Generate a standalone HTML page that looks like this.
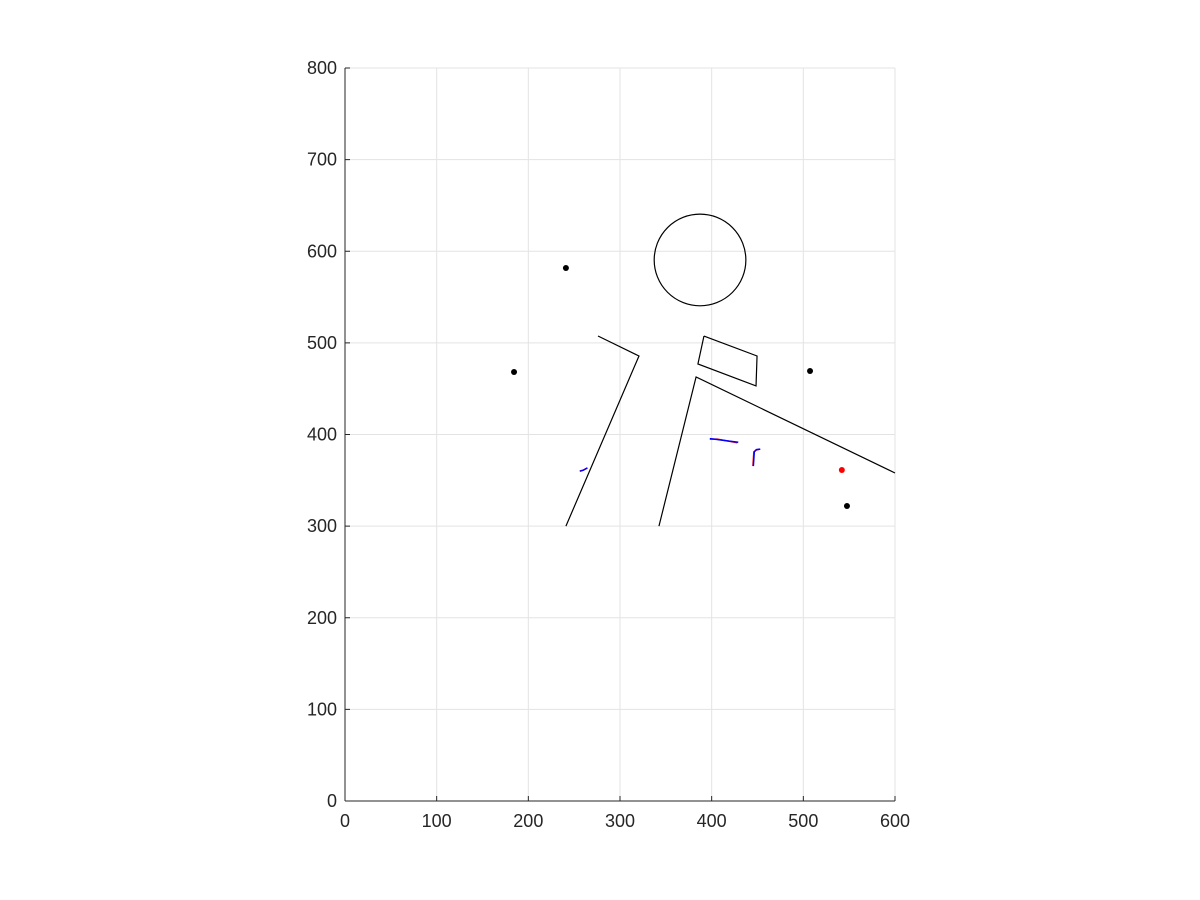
<!DOCTYPE html>
<html><head><meta charset="utf-8"><style>
body{margin:0;background:#fff}
svg{display:block;font-family:"Liberation Sans",sans-serif}
</style></head><body>
<svg id="chart" width="1200" height="900"></svg>
<script>
const xTicks=[0,100,200,300,400,500,600];
const yTicks=[0,100,200,300,400,500,600,700,800];
const wallA=[[276,507.5],[320.7,485.7],[241,300]];
const wallB=[[342.5,300],[383,462.8],[600,358]];
const quad=[[391.6,507.5],[449.5,485.7],[448.4,453],[385,477],[391.6,507.5]];
const circle=[387.3,590.5,50];
const blackDots=[[241,581.7],[184.4,468.2],[507.3,469.3],[547.6,322]];
const redDots=[[542,361.3]];
const traceRed=[[[398,395],[406,395],[417,393],[428,391]],[[445,365.6],[446,381],[448.4,383],[452.8,384]],[[256,360],[259.6,361],[264,363.4]]];
const traceBlue=[[[398,395.5],[406,394.5],[417,393],[429,391.5]],[[445.5,365.6],[446.5,381],[448.8,383.5],[453,384]],[[256.5,360],[260,361],[264.5,363.6]]];
const X0=345,X1=895,Y0=801,Y1=68;
const sx=v=>X0+(v-0)/600*(X1-X0);
const sy=v=>Y0-(v-0)/800*(Y0-Y1);
const svg=document.getElementById('chart');
const NS='http://www.w3.org/2000/svg';
function mk(t,a){const e=document.createElementNS(NS,t);for(const k in a)e.setAttribute(k,a[k]);svg.appendChild(e);return e;}
xTicks.forEach(t=>{
 const g=mk('line',{x1:sx(t),x2:sx(t),y1:Y1,y2:Y0,stroke:'#e3e3e3','stroke-width':1});
 
 
 const tk=mk('text',{x:sx(t),y:Y0+26,'text-anchor':'middle','font-size':18,fill:'#262626'});
 tk.textContent=t;
 
 
});
yTicks.forEach(t=>{
 const g=mk('line',{x1:X0,x2:X1,y1:sy(t),y2:sy(t),stroke:'#e3e3e3','stroke-width':1});
 
 
 const tk=mk('text',{x:X0-8,y:sy(t)+6,'text-anchor':'end','font-size':18,fill:'#262626'});
 tk.textContent=t;
 
 
});
const xa=mk('line',{x1:X0,x2:X1,y1:Y0,y2:Y0,stroke:'#262626','stroke-width':1});


const ya=mk('line',{x1:X0,x2:X0,y1:Y1,y2:Y0,stroke:'#262626','stroke-width':1});


xTicks.forEach(t=>{mk('line',{x1:sx(t),x2:sx(t),y1:Y0,y2:Y0-5,stroke:'#262626'});});
yTicks.forEach(t=>{mk('line',{x1:X0,x2:X0+5,y1:sy(t),y2:sy(t),stroke:'#262626'});});
function poly(pts,color,w,name){
 const p=mk('polyline',{points:pts.map(q=>sx(q[0])+','+sy(q[1])).join(' '),fill:'none',stroke:color,'stroke-width':w});
 
 
}
poly(wallA,'#000',1.2,'wall-left');
poly(wallB,'#000',1.2,'wall-right');
poly(quad,'#000',1.2,'obstacle-quad');
const c=mk('circle',{cx:sx(circle[0]),cy:sy(circle[1]),r:circle[2]/600*(X1-X0),fill:'none',stroke:'#000','stroke-width':1.2});


traceRed.forEach(t=>poly(t,'#f00',1.5,'trace-red'));
traceBlue.forEach(t=>poly(t,'#00f',1.5,'trace-blue'));
blackDots.forEach(d=>{
 const e=mk('circle',{cx:sx(d[0]),cy:sy(d[1]),r:3,fill:'#000'});
 
 
});
redDots.forEach(d=>{
 const e=mk('circle',{cx:sx(d[0]),cy:sy(d[1]),r:3,fill:'#f00'});
 
 
});
</script>
</body></html>
